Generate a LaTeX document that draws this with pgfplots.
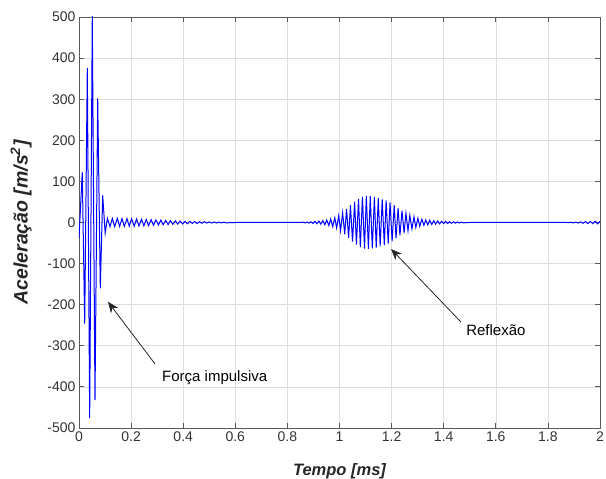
\documentclass[border=0pt]{standalone}
\usepackage{fontspec}
\setmainfont{Liberation Sans}
\usepackage{pgfplots}
\pgfplotsset{compat=1.18}
\usetikzlibrary{arrows.meta}

\begin{document}
\begin{tikzpicture}
\begin{axis}[
    scale only axis, width=521pt, height=411pt,
    xmin=0, xmax=2, ymin=-500, ymax=500,
    xtick={0,0.2,0.4,0.6,0.8,1,1.2,1.4,1.6,1.8,2},
    ytick={-500,-400,...,500},
    grid=major,
    major grid style={black!13, line width=0.6pt},
    axis line style={black!65, line width=0.8pt},
    tick style={black!65, line width=0.8pt},
    major tick length=5pt,
    tick label style={font=\fontsize{14}{16}\selectfont, text=black!80},
    /pgf/number format/assume math mode=true,
    xlabel={Tempo [ms]},
    ylabel={Aceleração [m/s\textsuperscript{2}]},
    label style={font=\fontsize{16.5}{19}\selectfont\bfseries\itshape, text=black!85},
    xlabel style={at={(axis description cs:0.5,-0.087)}, anchor=north, inner sep=0pt},
    ylabel style={at={(axis description cs:-0.111,0.5)}, anchor=center, inner sep=0pt,
        font=\fontsize{19.5}{22}\selectfont\bfseries\itshape},
]
% impulso inicial
\addplot[blue, line width=1pt] coordinates {
(0.000,-38)(0.0125,122)(0.0219,-246)(0.0319,376)(0.0410,-476)(0.0510,503)
(0.0614,-432)(0.0718,302)(0.0818,-160)(0.0910,66)(0.1005,-26)
(0.109,10)(0.119,-10)(0.128,10)(0.137,-10)(0.147,10)(0.156,-9.5)
(0.165,9.5)(0.174,-9.5)(0.184,9.5)(0.193,-9)(0.202,9)(0.212,-9)
(0.221,8.5)(0.230,-8.5)(0.240,8)(0.249,-8)(0.258,7.5)(0.267,-7.5)
(0.277,7)(0.286,-7)(0.295,6.5)(0.305,-6)(0.314,6)(0.323,-5.5)
(0.333,5)(0.342,-5)(0.351,4.5)(0.360,-4.5)(0.370,4)(0.379,-4)
(0.388,3.5)(0.398,-3.5)(0.407,3)(0.416,-3)(0.426,3)(0.435,-2.5)
(0.444,2.5)(0.453,-2.5)(0.463,2)(0.472,-2)(0.481,2)(0.491,-1.5)
(0.500,1.5)(0.509,-1.5)(0.519,1.2)(0.528,-1.2)(0.537,1)(0.546,-1)
(0.556,0.8)(0.565,-0.8)(0.600,0)(0.855,0)
% reflexao
(0.860,1)(0.868,-1.1)(0.875,1.3)(0.883,-1.5)(0.890,1.8)(0.898,-2.2)
(0.906,2.6)(0.913,-3)(0.921,3.5)(0.928,-4)(0.936,4.8)(0.944,-5.5)
(0.951,6.3)(0.959,-7.5)(0.966,8.5)(0.974,-10)(0.982,11.5)(0.989,-13.5)
(0.997,16.5)(1.004,-20)(1.012,24)(1.020,-28.5)(1.027,33)(1.035,-37.5)
(1.042,42)(1.050,-46.5)(1.058,50.5)(1.065,-54)(1.073,57)(1.080,-60)
(1.088,62)(1.096,-63.5)(1.103,64)(1.111,-64)(1.118,64)(1.126,-63)
(1.134,62)(1.141,-61)(1.149,59.5)(1.156,-58)(1.164,56.5)(1.172,-55)
(1.179,53.5)(1.187,-51.5)(1.194,49)(1.202,-46)(1.210,42)(1.217,-38.5)
(1.225,35)(1.232,-31.5)(1.240,28.5)(1.248,-25.5)(1.255,22.5)(1.263,-20)
(1.270,17.5)(1.278,-15.5)(1.286,13.5)(1.293,-12)(1.301,10.5)(1.308,-9)
(1.316,8)(1.324,-7)(1.331,6.3)(1.339,-5.7)(1.346,5.2)(1.354,-4.8)
(1.362,4.4)(1.369,-4)(1.377,3.7)(1.384,-3.4)(1.392,3.1)(1.400,-2.8)
(1.407,2.6)(1.415,-2.4)(1.422,2.2)(1.430,-2)(1.438,1.8)(1.445,-1.6)
(1.453,1.4)(1.460,-1.2)(1.468,1)(1.476,-0.8)(1.500,0)(1.865,0)
% final
(1.870,0.3)(1.879,-0.5)(1.888,0.7)(1.898,-0.9)(1.907,1.1)(1.916,-1.3)
(1.926,1.6)(1.935,-1.9)(1.944,2.2)(1.953,-2.5)(1.963,2.8)(1.972,-3)
(1.981,3.2)(1.991,-3.4)(2.000,3)
};
\draw[black!85, line width=0.8pt, -{Stealth[length=11pt,width=9pt]}]
    (axis cs:0.2917,-344) -- (axis cs:0.1113,-193);
\node[anchor=base west, inner sep=0pt, font=\fontsize{15}{18}\selectfont]
    at (axis cs:0.3186,-388) {Força impulsiva};
\draw[black!85, line width=0.8pt, -{Stealth[length=11pt,width=9pt]}]
    (axis cs:1.466,-242) -- (axis cs:1.198,-64.5);
\node[anchor=base west, inner sep=0pt, font=\fontsize{15}{18}\selectfont]
    at (axis cs:1.486,-274) {Reflexão};
\end{axis}
\pgfresetboundingbox
\path ([shift={(-79pt,-51pt)}]current axis.south west)
    rectangle ([shift={(6pt,17pt)}]current axis.north east);
\end{tikzpicture}
\end{document}
